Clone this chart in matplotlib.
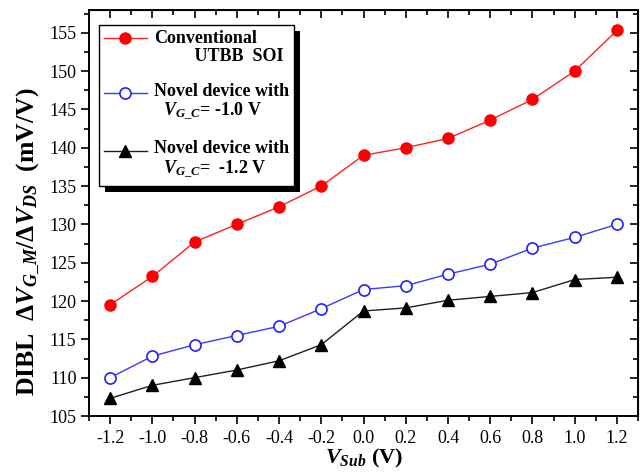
import matplotlib
matplotlib.use("Agg")
import numpy as np
import matplotlib.pyplot as plt
from matplotlib.patches import Rectangle
from matplotlib.ticker import MultipleLocator
from matplotlib.legend_handler import HandlerLine2D

plt.rcParams["font.family"] = ["Liberation Serif", "DejaVu Serif"]
plt.rcParams["mathtext.fontset"] = "custom"
plt.rcParams["mathtext.rm"] = "Liberation Serif:bold"
plt.rcParams["mathtext.it"] = "Liberation Serif:italic:bold"
plt.rcParams["mathtext.bf"] = "Liberation Serif:bold"

v_sub = [-1.2, -1.0, -0.8, -0.6, -0.4, -0.2, 0.0, 0.2, 0.4, 0.6, 0.8, 1.0, 1.2]
dibl_conventional = [119.5, 123.2, 127.7, 130.0, 132.3, 135.0, 139.0, 140.0, 141.2, 143.6, 146.3, 150.0, 155.3]
dibl_novel_10 = [110.0, 112.8, 114.3, 115.5, 116.7, 119.0, 121.5, 122.0, 123.5, 124.8, 126.9, 128.3, 130.0]
dibl_novel_12 = [107.3, 109.0, 110.0, 111.0, 112.2, 114.3, 118.7, 119.1, 120.1, 120.6, 121.1, 122.8, 123.1]

labels = [
    "Conventional\n         UTBB  SOI",
    "Novel device with\n  $V_{G\\_C}$= -1.0 V",
    "Novel device with\n  $V_{G\\_C}$=  -1.2 V",
]


class FirstLineHandler(HandlerLine2D):
    # put the legend handle level with the first line of a two-line label
    def create_artists(self, legend, orig_handle, xdescent, ydescent,
                       width, height, fontsize, trans):
        arts = super().create_artists(legend, orig_handle, xdescent, ydescent,
                                      width, height, fontsize, trans)
        for a in arts:
            a.set_ydata(np.asarray(a.get_ydata()) + 0.55 * fontsize)
        return arts


fig = plt.figure(figsize=(6.4, 4.73), dpi=100)
ax = fig.add_axes([0.139, 0.1205, 0.858, 0.859])

ax.plot(v_sub, dibl_conventional, color="#ff2020", lw=1.0, marker="o", ms=8,
        mfc="#ff0000", mec="#ff0000", label=labels[0])
ax.plot(v_sub, dibl_novel_10, color="#3a3aff", lw=1.0, marker="o", ms=8,
        mfc="white", mec="#2020ff", mew=1.2, label=labels[1])
ax.plot(v_sub, dibl_novel_12, color="#202020", lw=1.0, marker="^", ms=8,
        mfc="black", mec="black", label=labels[2])

ax.set_xlim(-1.3, 1.3)
ax.set_ylim(105, 158)
ax.xaxis.set_minor_locator(MultipleLocator(0.1))
ax.yaxis.set_major_locator(MultipleLocator(5))
ax.yaxis.set_minor_locator(MultipleLocator(2.5))
ax.set_xticks(v_sub)
ax.set_xticklabels([f"{v:.1f}" for v in v_sub])

ax.tick_params(which="both", direction="out", labelsize=13, width=1.2)
ax.tick_params(which="major", length=6)
ax.tick_params(which="minor", length=3.5)
ax.tick_params(axis="x", pad=4)
ax.tick_params(axis="y", pad=3)
for side in ["left", "right", "top", "bottom"]:
    ax.spines[side].set_linewidth(1.4)

# mirror ticks point inward on top and right
sec_x = ax.secondary_xaxis("top")
sec_x.set_xticks(v_sub)
sec_x.xaxis.set_minor_locator(MultipleLocator(0.1))
sec_x.tick_params(which="both", direction="in", labeltop=False, width=1.2)
sec_x.tick_params(which="major", length=6)
sec_x.tick_params(which="minor", length=3.5)
sec_y = ax.secondary_yaxis("right")
sec_y.yaxis.set_major_locator(MultipleLocator(5))
sec_y.yaxis.set_minor_locator(MultipleLocator(2.5))
sec_y.tick_params(which="both", direction="in", labelright=False, width=1.2)
sec_y.tick_params(which="major", length=6)
sec_y.tick_params(which="minor", length=3.5)

ax.set_xlabel("$V_{Sub}$ (V)", fontsize=16, fontweight="bold")
ax.xaxis.set_label_coords(0.5, -0.075)
ax.set_ylabel("DIBL  $\\Delta V_{G\\_M}$/$\\Delta V_{DS}$  (mV/V)",
              fontsize=18.5, fontweight="bold")
ax.yaxis.set_label_coords(-0.088, 0.43)

leg = ax.legend(loc="upper left", bbox_to_anchor=(0.018, 0.963), fancybox=False,
                edgecolor="black", framealpha=1, prop={"weight": "bold", "size": 13},
                handlelength=2.35, handletextpad=0.4, labelspacing=0.95,
                borderpad=0.3, borderaxespad=0,
                handler_map={matplotlib.lines.Line2D: FirstLineHandler()})
leg.get_frame().set_linewidth(1.0)
leg.set_zorder(6)
for t in leg.get_texts():
    t.set_linespacing(1.1)

# black drop shadow behind the legend box
fig.canvas.draw()
bb = leg.get_window_extent().transformed(fig.transFigure.inverted())
dx, dy = 6 / 640, 6 / 473
ax.add_patch(Rectangle((bb.x0 + dx, bb.y0 - dy), bb.width, bb.height,
                       transform=fig.transFigure, facecolor="black",
                       edgecolor="none", zorder=5.5, clip_on=False))

fig.savefig("out.png", dpi=100)
